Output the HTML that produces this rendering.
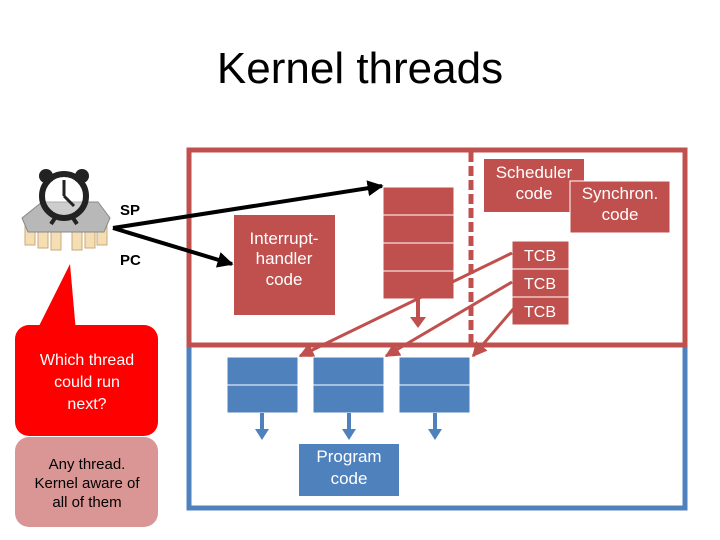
<!DOCTYPE html>
<html><head><style>body{margin:0;background:#fff}svg{display:block}text{font-family:"Liberation Sans",sans-serif}</style></head>
<body>
<svg width="720" height="540" viewBox="0 0 720 540">
<defs>
<marker id="ab" viewBox="0 0 10 10" refX="9" refY="5" markerWidth="4" markerHeight="4" orient="auto"><path d="M0,0L10,5L0,10z" fill="#000"/></marker>
<marker id="ar" viewBox="0 0 10 10" refX="9" refY="5" markerWidth="5" markerHeight="5" orient="auto"><path d="M0,0L10,5L0,10z" fill="#c0504d"/></marker>
</defs>
<text x="360" y="83" font-size="44" text-anchor="middle">Kernel threads</text>
<rect x="189" y="345" width="496" height="163" fill="none" stroke="#4f81bd" stroke-width="5"/>
<rect x="189" y="150" width="496" height="195" fill="none" stroke="#c0504d" stroke-width="5"/>
<line x1="471" y1="152" x2="471" y2="345" stroke="#c0504d" stroke-width="5" stroke-dasharray="10,4"/>
<g fill="#c0504d" stroke="#fff" stroke-width="1">
<rect x="383" y="187" width="71" height="28"/><rect x="383" y="215" width="71" height="28"/><rect x="383" y="243" width="71" height="28"/><rect x="383" y="271" width="71" height="28"/>
</g>
<line x1="418" y1="299" x2="418" y2="318" stroke="#c0504d" stroke-width="4"/>
<path d="M410,317L426,317L418,328z" fill="#c0504d"/>
<rect x="484" y="159" width="100" height="53" fill="#c0504d"/>
<text x="534" y="178" font-size="17" fill="#fff" text-anchor="middle">Scheduler</text>
<text x="534" y="199" font-size="17" fill="#fff" text-anchor="middle">code</text>
<rect x="570" y="181" width="100" height="52" fill="#c0504d" stroke="#fff" stroke-width="1"/>
<text x="620" y="199" font-size="17" fill="#fff" text-anchor="middle">Synchron.</text>
<text x="620" y="220" font-size="17" fill="#fff" text-anchor="middle">code</text>
<g fill="#c0504d" stroke="#fff" stroke-width="1">
<rect x="512" y="241" width="57" height="28"/><rect x="512" y="269" width="57" height="28"/><rect x="512" y="297" width="57" height="28"/>
</g>
<g font-size="16" fill="#fff" text-anchor="middle">
<text x="540" y="261">TCB</text><text x="540" y="289">TCB</text><text x="540" y="317">TCB</text></g>
<rect x="234" y="215" width="101" height="100" fill="#c0504d"/>
<g font-size="17" fill="#fff" text-anchor="middle">
<text x="284" y="244">Interrupt-</text><text x="284" y="264">handler</text><text x="284" y="285">code</text></g>
<g stroke="#c0504d" stroke-width="3" marker-end="url(#ar)">
<line x1="512" y1="253" x2="300" y2="356"/>
<line x1="512" y1="282" x2="386" y2="356"/>
<line x1="515" y1="307" x2="473" y2="356"/>
</g>
<g fill="#4f81bd" stroke="#fff" stroke-width="1">
<rect x="227" y="357" width="71" height="28"/><rect x="227" y="385" width="71" height="28"/>
<rect x="313" y="357" width="71" height="28"/><rect x="313" y="385" width="71" height="28"/>
<rect x="399" y="357" width="71" height="28"/><rect x="399" y="385" width="71" height="28"/>
</g>
<g stroke="#4f81bd" stroke-width="4"><line x1="262" y1="413" x2="262" y2="430"/><line x1="349" y1="413" x2="349" y2="430"/><line x1="435" y1="413" x2="435" y2="430"/></g>
<g fill="#4f81bd"><path d="M255,429L269,429L262,440z"/><path d="M342,429L356,429L349,440z"/><path d="M428,429L442,429L435,440z"/></g>
<rect x="299" y="444" width="100" height="52" fill="#4f81bd"/>
<text x="349" y="462" font-size="17" fill="#fff" text-anchor="middle">Program</text>
<text x="349" y="484" font-size="17" fill="#fff" text-anchor="middle">code</text>
<g stroke="#000" stroke-width="4" marker-end="url(#ab)">
<line x1="113" y1="228" x2="382" y2="186"/>
<line x1="113" y1="228" x2="232" y2="264"/>
</g>
<text x="120" y="215" font-size="15" font-weight="bold">SP</text>
<text x="120" y="265" font-size="15" font-weight="bold">PC</text>
<g>
<g fill="#f5deb3" stroke="#c9a97a">
<rect x="25" y="225" width="10" height="20"/><rect x="38" y="228" width="10" height="20"/><rect x="51" y="230" width="10" height="20"/>
<rect x="72" y="230" width="10" height="20"/><rect x="85" y="228" width="10" height="20"/><rect x="97" y="225" width="10" height="20"/>
</g>
<path d="M22,218L42,202L98,202L110,218L104,232L28,232z" fill="#b8b8b8" stroke="#888"/>
<circle cx="64" cy="196" r="22" fill="#fff" fill-opacity="0.3" stroke="#222" stroke-width="6"/>
<circle cx="46" cy="176" r="7" fill="#222"/><circle cx="82" cy="176" r="7" fill="#222"/>
<line x1="55" y1="218" x2="51" y2="224" stroke="#222" stroke-width="4"/><line x1="73" y1="218" x2="77" y2="224" stroke="#222" stroke-width="4"/>
<line x1="64" y1="196" x2="64" y2="180" stroke="#222" stroke-width="3"/>
<line x1="64" y1="196" x2="74" y2="206" stroke="#222" stroke-width="3"/>
</g>
<path d="M70,264L36,332L76,332z" fill="#f00"/>
<rect x="15" y="325" width="143" height="111" rx="14" fill="#f00"/>
<g font-size="16" fill="#fff" text-anchor="middle">
<text x="87" y="365">Which thread</text><text x="87" y="387">could run</text><text x="87" y="409">next?</text></g>
<rect x="15" y="437" width="143" height="90" rx="14" fill="#d99694"/>
<g font-size="15" fill="#000" text-anchor="middle">
<text x="87" y="469">Any thread.</text><text x="87" y="488">Kernel aware of</text><text x="87" y="507">all of them</text></g>
</svg>
</body></html>
